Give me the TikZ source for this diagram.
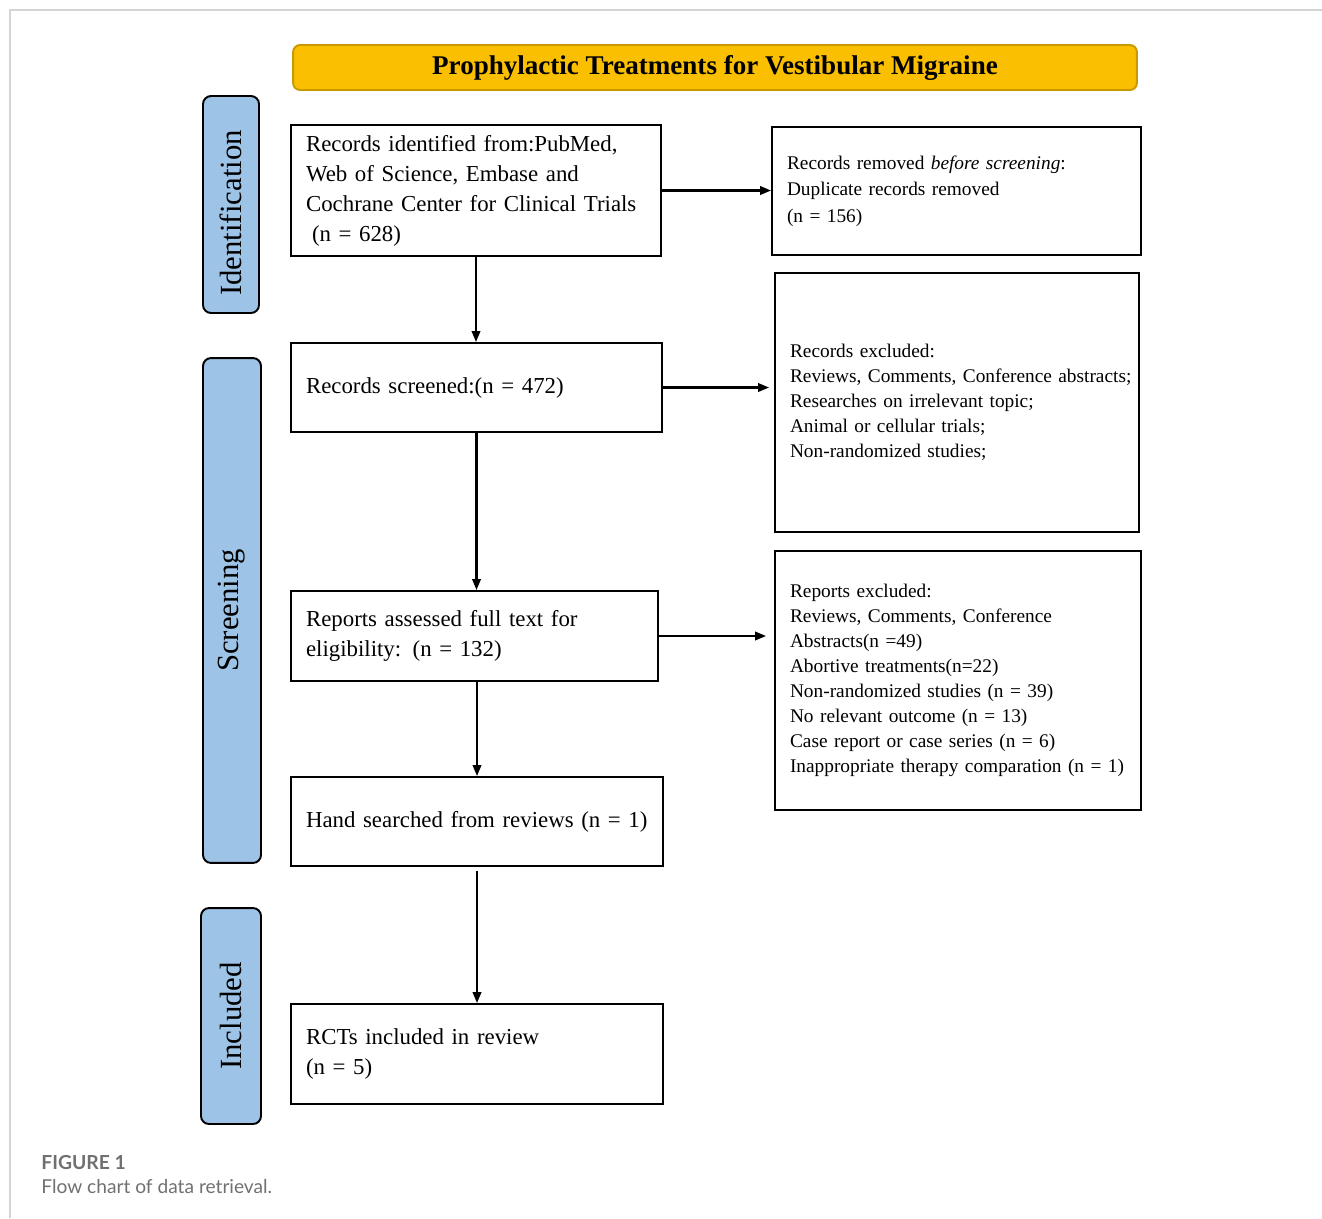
\documentclass[tikz,border=0pt]{standalone}
\usepackage{fontspec}
\setmainfont{Liberation Serif}
\newfontfamily\capfont{Lato}
\usepackage{xcolor}
\usepackage{tikz}
\usetikzlibrary{arrows.meta,calc,positioning}

\definecolor{titlefill}{HTML}{F9BF00}
\definecolor{titleline}{HTML}{C89A00}
\definecolor{sidefill}{HTML}{9DC3E6}
\definecolor{capgray}{HTML}{707070}
\definecolor{framegray}{HTML}{D4D4D4}

\begin{document}
\begin{tikzpicture}[x=0.02cm, y=-0.02cm,
  box/.style={draw, line width=1.1pt, inner xsep=0.3cm, align=left},
  leftfont/.style={font=\fontsize{13}{17.1}\selectfont},
  rightfont/.style={font=\fontsize{11}{14.2}\selectfont},
  side/.style={draw, line width=1.1pt, fill=sidefill, rounded corners=0.16cm, rotate=90, font=\fontsize{17.5}{21}\selectfont},
  arr/.style={-{Triangle[length=0.22cm,width=0.17cm]}, line width=1.2pt}]
\useasboundingbox (0,0) rectangle (1322,1218);
% page frame
\draw[framegray, line width=0.8pt] (1322,10) -- (10,10) -- (10,1218);

% title bar
\node[draw=titleline, fill=titlefill, line width=1.1pt, rounded corners=0.14cm, minimum width=16.88cm, minimum height=0.9cm, font=\bfseries\fontsize{15.4}{18}\selectfont] (title) at (715,67.5) {Prophylactic Treatments for Vestibular Migraine};

% stage labels
\node[side, minimum width=4.34cm, minimum height=1.12cm] (ident) at (231,204.5) {Identification\hspace*{0.34cm}};
\node[side, minimum width=10.1cm, minimum height=1.16cm] (screen) at (232,610.5) {Screening};
\node[side, minimum width=4.32cm, minimum height=1.2cm] (incl) at (231,1016) {Included};

% main column
\node[box, leftfont, minimum width=7.4cm, minimum height=2.62cm, text width=6.8cm] (ident_box) at (476,190.5) {Records identified from:PubMed,\\Web of Science, Embase and\\Cochrane Center for Clinical Trials\\\hspace*{0.12cm}(n = 628)};
\node[box, leftfont, minimum width=7.42cm, minimum height=1.78cm, text width=6.82cm] (screened) at (476.5,387.5) {Records screened:(n = 472)};
\node[box, leftfont, minimum width=7.34cm, minimum height=1.8cm, text width=6.74cm] (assessed) at (474.5,636) {Reports assessed full text for\\eligibility: (n = 132)};
\node[box, leftfont, minimum width=7.44cm, minimum height=1.78cm, text width=6.84cm] (hand) at (477,821.5) {\mbox{Hand searched from reviews (n = 1)}};
\node[box, leftfont, minimum width=7.44cm, minimum height=2.0cm, text width=6.84cm] (rcts) at (477,1054) {RCTs included in review\\(n = 5)};

% exclusion column
\node[box, font=\fontsize{11}{15}\selectfont, minimum width=7.38cm, minimum height=2.56cm, text width=6.78cm] (removed) at (956.5,191) {Records removed \textit{before screening}:\\Duplicate records removed\\(n = 156)};
\node[box, rightfont, minimum width=7.28cm, minimum height=5.18cm, text width=6.68cm] (rec_excl) at (957,402.5) {Records excluded:\\\mbox{Reviews, Comments, Conference abstracts;}\\Researches on irrelevant topic;\\Animal or cellular trials;\\Non-randomized studies;};
\node[box, rightfont, minimum width=7.32cm, minimum height=5.18cm, text width=6.72cm] (rep_excl) at (958,680.5) {Reports excluded:\\Reviews, Comments, Conference\\Abstracts(n =49)\\Abortive treatments(n=22)\\Non-randomized studies (n = 39)\\No relevant outcome (n = 13)\\Case report or case series (n = 6)\\\mbox{Inappropriate therapy comparation (n = 1)}};

% arrows
\draw[arr] (ident_box.east) -- (ident_box.east -| removed.west);
\draw[arr] (ident_box.south) -- (ident_box.south |- screened.north);
\draw[arr, shorten >=0.1cm] (screened.east) -- (screened.east -| rec_excl.west);
\draw[arr] (screened.south) -- (screened.south |- assessed.north);
\draw[arr, shorten >=0.16cm] (assessed.east) -- (assessed.east -| rep_excl.west);
\draw[arr] (hand.north |- assessed.south) -- (hand.north);
\draw[arr, shorten <=0.08cm] (hand.south) -- (rcts.north);

% caption
\node[anchor=west, inner sep=0pt, text=capgray, font=\capfont\bfseries\fontsize{11}{13}\selectfont] (fig) at (41,1162) {FIGURE 1};
\node[anchor=west, inner sep=0pt, text=capgray, font=\capfont\fontsize{10.9}{13}\selectfont] (figcap) at (41,1187) {Flow chart of data retrieval.};
\end{tikzpicture}
\end{document}
